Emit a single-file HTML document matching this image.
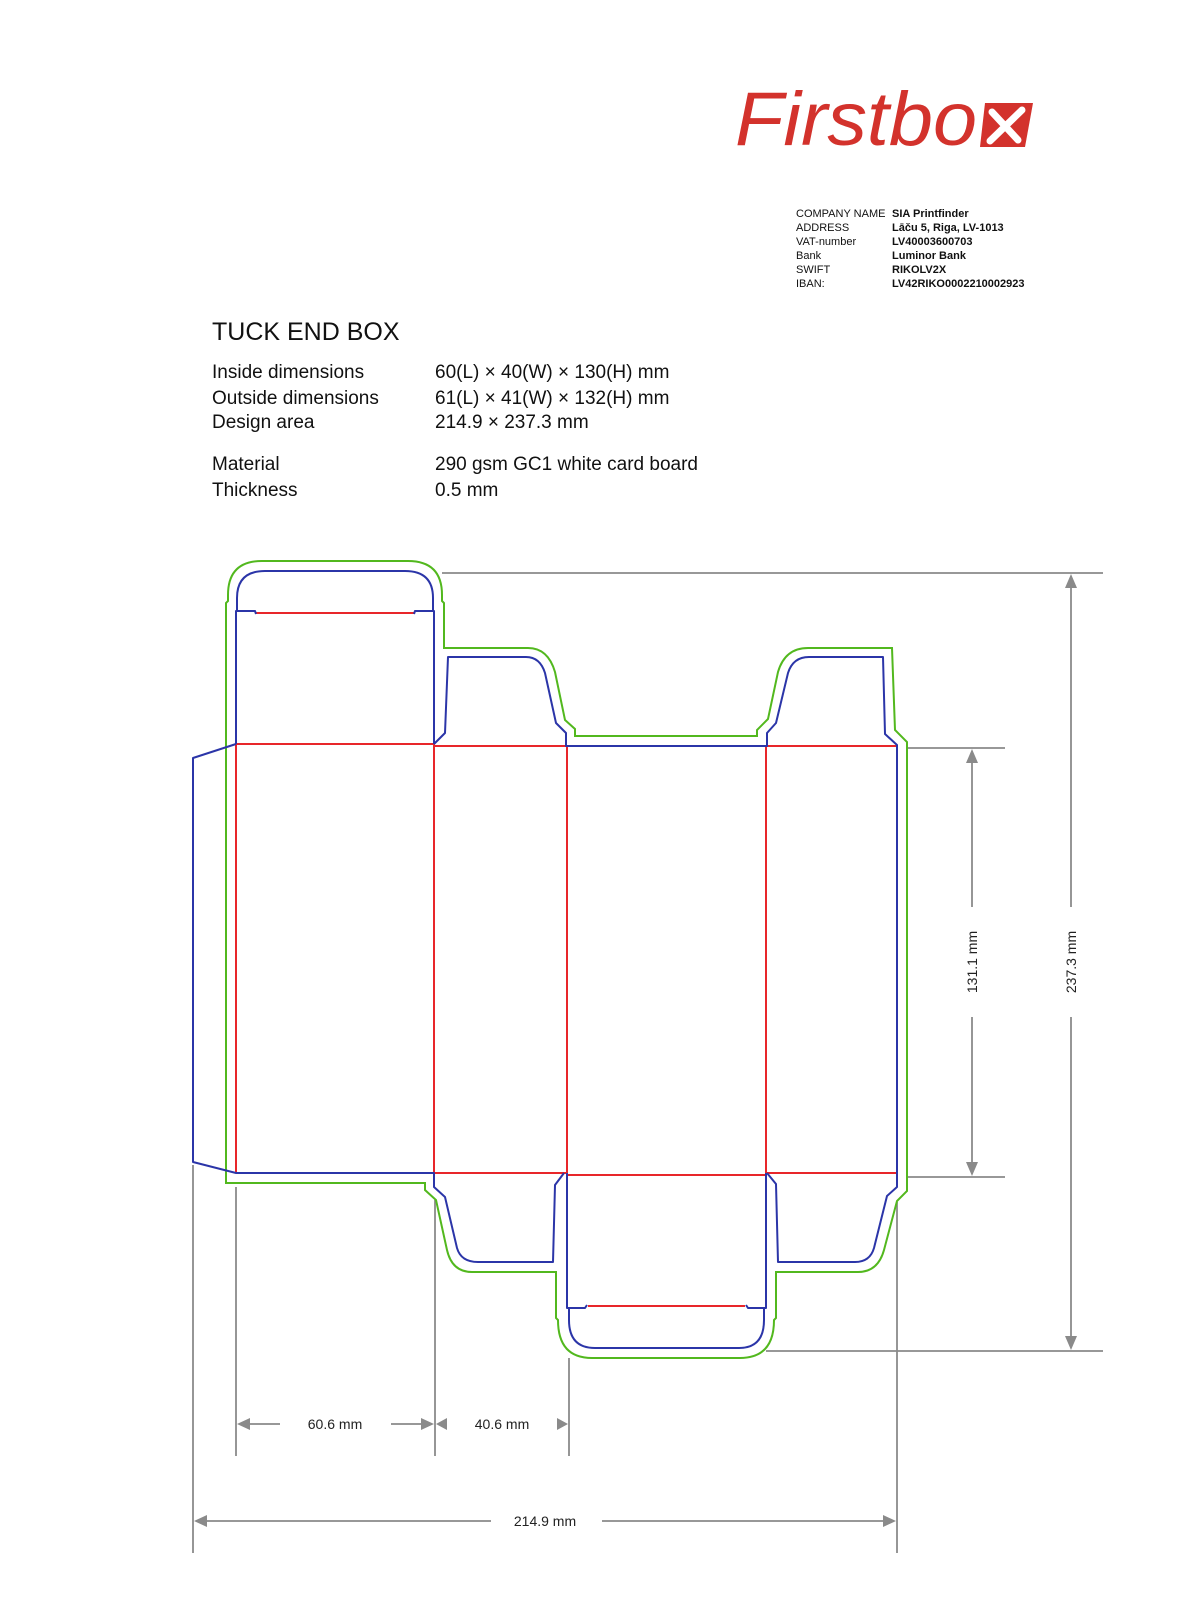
<!DOCTYPE html>
<html><head><meta charset="utf-8"><style>
html,body{margin:0;padding:0;background:#fff;}
svg{display:block}
</style></head><body>
<svg width="1200" height="1623" viewBox="0 0 1200 1623" xmlns="http://www.w3.org/2000/svg" font-family="Liberation Sans, sans-serif">
<!-- logo -->
<text x="735" y="145" font-size="76" font-style="italic" fill="#d3322c" textLength="242" lengthAdjust="spacingAndGlyphs">Firstbo</text>
<path d="M985 103 L1033 103 L1025 147 L980 147 Z" fill="#d3322c"/>
<path d="M992 112 L1018 140 M1022 110 L990 141" stroke="#fff" stroke-width="7" stroke-linecap="round"/>
<!-- company -->
<g font-size="11" fill="#111">
<text x="796" y="217">COMPANY NAME</text>
<text x="796" y="231">ADDRESS</text>
<text x="796" y="245">VAT-number</text>
<text x="796" y="259">Bank</text>
<text x="796" y="273">SWIFT</text>
<text x="796" y="287">IBAN:</text>
</g>
<g font-size="11" font-weight="bold" fill="#111">
<text x="892" y="217">SIA Printfinder</text>
<text x="892" y="231">Lāču 5, Riga, LV-1013</text>
<text x="892" y="245">LV40003600703</text>
<text x="892" y="259">Luminor Bank</text>
<text x="892" y="273">RIKOLV2X</text>
<text x="892" y="287">LV42RIKO0002210002923</text>
</g>
<!-- spec -->
<g fill="#111">
<text x="212" y="340" font-size="25">TUCK END BOX</text>
<g font-size="19">
<text x="212" y="378">Inside dimensions</text>
<text x="212" y="404">Outside dimensions</text>
<text x="212" y="428">Design area</text>
<text x="212" y="470">Material</text>
<text x="212" y="496">Thickness</text>
<text x="435" y="378">60(L) × 40(W) × 130(H) mm</text>
<text x="435" y="404">61(L) × 41(W) × 132(H) mm</text>
<text x="435" y="428">214.9 × 237.3 mm</text>
<text x="435" y="470">290 gsm GC1 white card board</text>
<text x="435" y="496">0.5 mm</text>
</g></g>
<!-- dimension lines -->
<g stroke="#8a8a8a" stroke-width="1.8" fill="none">
<path d="M442 573 H1103 M907 748 H1005 M907 1177 H1005 M766 1351 H1103"/>
<path d="M972 760 V907 M972 1017 V1165 M1071 585 V907 M1071 1017 V1339"/>
<path d="M193 1165 V1553 M236 1187 V1456 M435 1200 V1456 M569 1358 V1456 M897 1202 V1553"/>
<path d="M248 1424 H280 M391 1424 H423 M205 1521 H491 M602 1521 H888"/>
</g>
<g fill="#8a8a8a">
<path d="M972 749 l-6 14 h12 Z M972 1176 l-6 -14 h12 Z M1071 574 l-6 14 h12 Z M1071 1350 l-6 -14 h12 Z"/>
<path d="M237 1424 l13 -6 v12 Z M434 1424 l-13 -6 v12 Z M436 1424 l11 -6 v12 Z M568 1424 l-11 -6 v12 Z M194 1521 l13 -6 v12 Z M896 1521 l-13 -6 v12 Z"/>
</g>
<g font-size="14" fill="#222" text-anchor="middle">
<text x="335" y="1429">60.6 mm</text>
<text x="502" y="1429">40.6 mm</text>
<text x="545" y="1526">214.9 mm</text>
<text transform="translate(977 962) rotate(-90)">131.1 mm</text>
<text transform="translate(1076 962) rotate(-90)">237.3 mm</text>
</g>
<!-- green bleed -->
<path d="M226 1183 V603 L228 601 V595 Q228 561 262 561 H408 Q442 561 442 595 V601 L444 603 V648 H528 Q548 648 555 672 L565 720 L575 729 V736 H757 V730 L768 719 L778 672 Q785 648 808 648 H892 L895 730 L907 742 V1191 L897 1201 L884 1250 Q878 1272 858 1272 H776 V1318 L774 1320 Q774 1358 740 1358 H592 Q558 1358 558 1320 L556 1318 V1272 H472 Q452 1272 447 1250 L436 1200 L425 1190 V1183 Z" fill="none" stroke="#52b81e" stroke-width="2"/>
<!-- red folds -->
<g stroke="#e8262a" stroke-width="2" fill="none">
<path d="M256 613 H414 M588 1306 H745"/>
<path d="M236 744 H434 M434 746 H566 M766 746 H897"/>
<path d="M434 1173 H567 M567 1175 H766 M766 1173 H897"/>
<path d="M236 744 V1173 M434 744 V1173 M567 746 V1175 M766 746 V1175"/>
</g>
<!-- blue cuts -->
<g stroke="#2b35a8" stroke-width="2" fill="none" stroke-linejoin="round">
<path d="M236 744 V611 H255 L256 614 M414 614 L415 611 H434 V744"/>
<path d="M237 611 V598 Q237 571 265 571 H405 Q433 571 433 598 V611"/>
<path d="M434 744 L445 733 L448 657 H526 Q540 657 545 673 L556 723 L566 733 V746 H767 V733 L776 723 L788 673 Q793 657 809 657 H883 L885 734 L897 745 V1187 L887 1196 L874 1248 Q870 1262 855 1262 H778 L776 1184 L767 1173"/>
<path d="M236 744 L193 758 V1162 L236 1173 H434 V1187 L445 1197 L457 1248 Q461 1262 478 1262 H553 L555 1185 L564 1173"/>
<path d="M567 1173 V1308 H585 L587 1305 M746 1305 L748 1308 H766 V1173"/>
<path d="M569 1308 V1320 Q569 1348 595 1348 H739 Q764 1348 764 1320 V1308"/>
</g>
</svg>
</body></html>
